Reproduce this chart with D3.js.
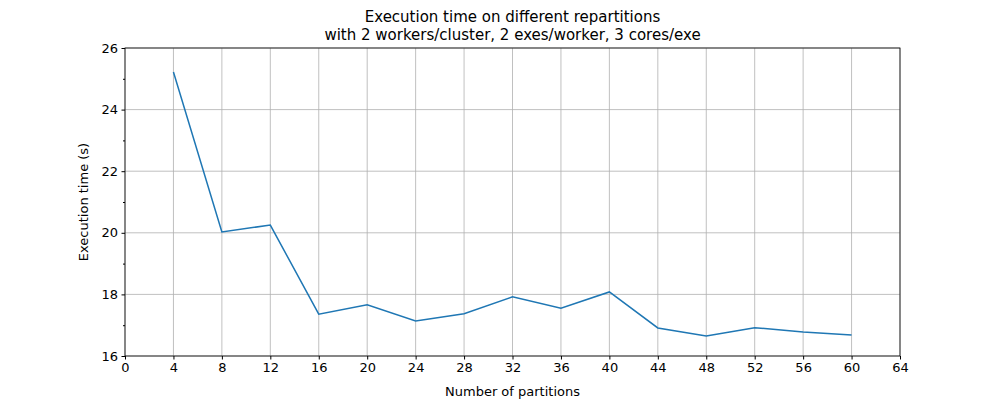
<!DOCTYPE html>
<html><head><meta charset="utf-8">
<script src="https://cdn.jsdelivr.net/npm/d3@7"></script>
<style>body{margin:0;background:#fff}text{font-family:"DejaVu Sans",sans-serif}</style>
</head><body><div id="root"></div>
<script>
const partitions = [4, 8, 12, 16, 20, 24, 28, 32, 36, 40, 44, 48, 52, 56, 60];
const times = [25.22, 20.03, 20.25, 17.36, 17.66, 17.14, 17.37, 17.92, 17.55, 18.08, 16.91, 16.65, 16.92, 16.78, 16.68];
const xTicks = d3.range(0, 65, 4);
const yTicks = [16, 18, 20, 22, 24, 26];
const yMinor = [17, 19, 21, 23, 25];

const W = 1000, H = 400, m = {l: 125, r: 100, t: 48, b: 44};
const svg = d3.select("#root").append("svg").attr("width", W).attr("height", H);
const x = d3.scaleLinear().domain([0, 64]).range([m.l, W - m.r]);
const y = d3.scaleLinear().domain([16, 26]).range([H - m.b, m.t]);

// grid
svg.append("g").selectAll("line").data(xTicks).enter().append("line")
    .attr("x1", d => x(d)).attr("x2", d => x(d)).attr("y1", m.t).attr("y2", H - m.b)
    .attr("stroke", "#b0b0b0").attr("stroke-width", 0.8);
svg.append("g").selectAll("line").data(yTicks).enter().append("line")
    .attr("y1", d => y(d)).attr("y2", d => y(d)).attr("x1", m.l).attr("x2", W - m.r)
    .attr("stroke", "#b0b0b0").attr("stroke-width", 0.8);

const xAxis = svg.append("g").attr("transform", `translate(0,${H - m.b})`)
    .call(d3.axisBottom(x).tickValues(xTicks).tickSize(3.5).tickPadding(3.5));
const yAxis = svg.append("g").attr("transform", `translate(${m.l},0)`)
    .call(d3.axisLeft(y).tickValues(yTicks).tickSize(3.5).tickPadding(3.5));
svg.append("g").attr("transform", `translate(${m.l},0)`)
    .call(d3.axisLeft(y).tickValues(yMinor).tickSize(2).tickFormat(""))
    .select(".domain").remove();
[xAxis, yAxis].forEach(a => a.selectAll("text").attr("font-size", 13).attr("fill", "#000"));
svg.selectAll(".domain").remove();

svg.append("rect").attr("x", m.l).attr("y", m.t).attr("width", W - m.l - m.r).attr("height", H - m.t - m.b)
    .attr("fill", "none").attr("stroke", "#000").attr("stroke-width", 0.8);

svg.append("path").datum(partitions.map((p, i) => [p, times[i]]))
    .attr("d", d3.line().x(d => x(d[0])).y(d => y(d[1])))
    .attr("fill", "none").attr("stroke", "#1f77b4").attr("stroke-width", 1.5);

svg.append("text").attr("x", (m.l + W - m.r) / 2).attr("y", 22).attr("text-anchor", "middle")
    .attr("font-size", 15).text("Execution time on different repartitions");
svg.append("text").attr("x", (m.l + W - m.r) / 2).attr("y", 40).attr("text-anchor", "middle")
    .attr("font-size", 15).text("with 2 workers/cluster, 2 exes/worker, 3 cores/exe");
svg.append("text").attr("x", (m.l + W - m.r) / 2).attr("y", 396).attr("text-anchor", "middle")
    .attr("font-size", 13).text("Number of partitions");
svg.append("text").attr("transform", `translate(88,${(m.t + H - m.b) / 2}) rotate(-90)`)
    .attr("text-anchor", "middle").attr("font-size", 13).text("Execution time (s)");
</script></body></html>
